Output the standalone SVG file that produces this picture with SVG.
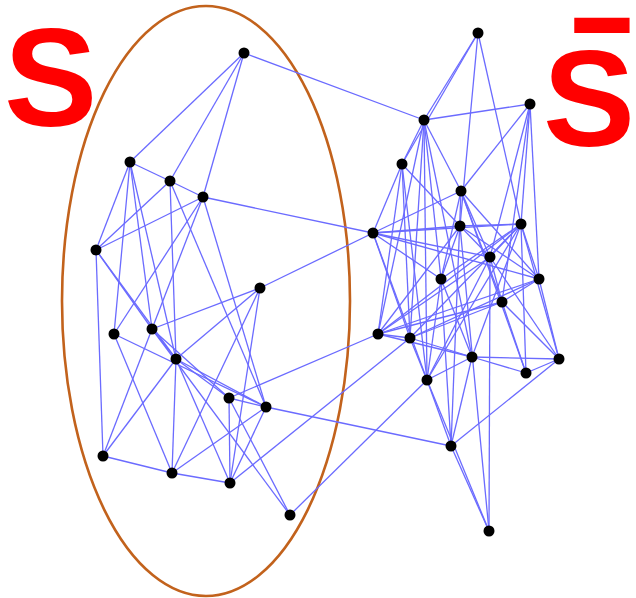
<svg xmlns="http://www.w3.org/2000/svg" width="636" height="598" viewBox="0 0 636 598">
<style>
.e{stroke:#6b6bff;stroke-width:1.3;fill:none}
.n{fill:#000}
.lbl{font-family:"Liberation Sans",Arial,sans-serif;font-weight:bold;fill:#ff0000}
</style>
<rect width="636" height="598" fill="#fff"/>
<ellipse id="set-S" cx="206" cy="301" rx="144" ry="295" fill="none" stroke="#c2621c" stroke-width="2.6"/>
<text class="lbl" x="4" y="126" font-size="140">S</text>
<text class="lbl" x="543" y="146" font-size="138">S<tspan x="602" y="152" font-size="185">̄</tspan></text>
<g id="connectors" class="e">
<line x1="244" y1="53" x2="130" y2="162"/>
<line x1="244" y1="53" x2="170" y2="181"/>
<line x1="244" y1="53" x2="203" y2="197"/>
<line x1="130" y1="162" x2="170" y2="181"/>
<line x1="130" y1="162" x2="96" y2="250"/>
<line x1="130" y1="162" x2="114" y2="334"/>
<line x1="130" y1="162" x2="152" y2="329"/>
<line x1="130" y1="162" x2="176" y2="359"/>
<line x1="170" y1="181" x2="203" y2="197"/>
<line x1="170" y1="181" x2="96" y2="250"/>
<line x1="170" y1="181" x2="176" y2="359"/>
<line x1="170" y1="181" x2="266" y2="407"/>
<line x1="203" y1="197" x2="96" y2="250"/>
<line x1="203" y1="197" x2="114" y2="334"/>
<line x1="203" y1="197" x2="152" y2="329"/>
<line x1="203" y1="197" x2="266" y2="407"/>
<line x1="96" y1="250" x2="103" y2="456"/>
<line x1="96" y1="250" x2="152" y2="329"/>
<line x1="96" y1="250" x2="176" y2="359"/>
<line x1="260" y1="288" x2="152" y2="329"/>
<line x1="260" y1="288" x2="176" y2="359"/>
<line x1="260" y1="288" x2="172" y2="473"/>
<line x1="260" y1="288" x2="230" y2="483"/>
<line x1="114" y1="334" x2="266" y2="407"/>
<line x1="114" y1="334" x2="172" y2="473"/>
<line x1="152" y1="329" x2="176" y2="359"/>
<line x1="152" y1="329" x2="229" y2="398"/>
<line x1="152" y1="329" x2="103" y2="456"/>
<line x1="152" y1="329" x2="290" y2="515"/>
<line x1="176" y1="359" x2="229" y2="398"/>
<line x1="176" y1="359" x2="266" y2="407"/>
<line x1="176" y1="359" x2="103" y2="456"/>
<line x1="176" y1="359" x2="172" y2="473"/>
<line x1="176" y1="359" x2="230" y2="483"/>
<line x1="229" y1="398" x2="266" y2="407"/>
<line x1="229" y1="398" x2="230" y2="483"/>
<line x1="229" y1="398" x2="290" y2="515"/>
<line x1="266" y1="407" x2="172" y2="473"/>
<line x1="266" y1="407" x2="230" y2="483"/>
<line x1="103" y1="456" x2="172" y2="473"/>
<line x1="172" y1="473" x2="230" y2="483"/>
<line x1="244" y1="53" x2="424" y2="120"/>
<line x1="203" y1="197" x2="373" y2="233"/>
<line x1="260" y1="288" x2="373" y2="233"/>
<line x1="229" y1="398" x2="378" y2="334"/>
<line x1="266" y1="407" x2="451" y2="446"/>
<line x1="230" y1="483" x2="410" y2="338"/>
<line x1="290" y1="515" x2="427" y2="380"/>
<line x1="478" y1="33" x2="424" y2="120"/>
<line x1="478" y1="33" x2="402" y2="164"/>
<line x1="478" y1="33" x2="460" y2="226"/>
<line x1="478" y1="33" x2="521" y2="224"/>
<line x1="530" y1="104" x2="424" y2="120"/>
<line x1="530" y1="104" x2="461" y2="191"/>
<line x1="530" y1="104" x2="521" y2="224"/>
<line x1="530" y1="104" x2="539" y2="279"/>
<line x1="530" y1="104" x2="502" y2="302"/>
<line x1="530" y1="104" x2="490" y2="257"/>
<line x1="424" y1="120" x2="402" y2="164"/>
<line x1="424" y1="120" x2="461" y2="191"/>
<line x1="424" y1="120" x2="441" y2="279"/>
<line x1="424" y1="120" x2="378" y2="334"/>
<line x1="424" y1="120" x2="410" y2="338"/>
<line x1="424" y1="120" x2="427" y2="380"/>
<line x1="424" y1="120" x2="472" y2="357"/>
<line x1="402" y1="164" x2="373" y2="233"/>
<line x1="402" y1="164" x2="460" y2="226"/>
<line x1="402" y1="164" x2="378" y2="334"/>
<line x1="402" y1="164" x2="410" y2="338"/>
<line x1="402" y1="164" x2="427" y2="380"/>
<line x1="461" y1="191" x2="373" y2="233"/>
<line x1="461" y1="191" x2="490" y2="257"/>
<line x1="461" y1="191" x2="441" y2="279"/>
<line x1="461" y1="191" x2="502" y2="302"/>
<line x1="461" y1="191" x2="526" y2="373"/>
<line x1="461" y1="191" x2="539" y2="279"/>
<line x1="461" y1="191" x2="451" y2="446"/>
<line x1="373" y1="233" x2="460" y2="226"/>
<line x1="373" y1="233" x2="521" y2="224"/>
<line x1="373" y1="233" x2="490" y2="257"/>
<line x1="373" y1="233" x2="441" y2="279"/>
<line x1="373" y1="233" x2="410" y2="338"/>
<line x1="373" y1="233" x2="427" y2="380"/>
<line x1="373" y1="233" x2="539" y2="279"/>
<line x1="460" y1="226" x2="521" y2="224"/>
<line x1="460" y1="226" x2="490" y2="257"/>
<line x1="460" y1="226" x2="441" y2="279"/>
<line x1="460" y1="226" x2="378" y2="334"/>
<line x1="460" y1="226" x2="489" y2="531"/>
<line x1="460" y1="226" x2="539" y2="279"/>
<line x1="521" y1="224" x2="490" y2="257"/>
<line x1="521" y1="224" x2="441" y2="279"/>
<line x1="521" y1="224" x2="539" y2="279"/>
<line x1="521" y1="224" x2="378" y2="334"/>
<line x1="521" y1="224" x2="410" y2="338"/>
<line x1="521" y1="224" x2="472" y2="357"/>
<line x1="521" y1="224" x2="526" y2="373"/>
<line x1="521" y1="224" x2="427" y2="380"/>
<line x1="521" y1="224" x2="559" y2="359"/>
<line x1="490" y1="257" x2="502" y2="302"/>
<line x1="490" y1="257" x2="559" y2="359"/>
<line x1="490" y1="257" x2="378" y2="334"/>
<line x1="490" y1="257" x2="427" y2="380"/>
<line x1="490" y1="257" x2="489" y2="531"/>
<line x1="441" y1="279" x2="427" y2="380"/>
<line x1="441" y1="279" x2="472" y2="357"/>
<line x1="441" y1="279" x2="451" y2="446"/>
<line x1="539" y1="279" x2="502" y2="302"/>
<line x1="539" y1="279" x2="378" y2="334"/>
<line x1="539" y1="279" x2="559" y2="359"/>
<line x1="539" y1="279" x2="410" y2="338"/>
<line x1="502" y1="302" x2="559" y2="359"/>
<line x1="502" y1="302" x2="526" y2="373"/>
<line x1="502" y1="302" x2="410" y2="338"/>
<line x1="502" y1="302" x2="378" y2="334"/>
<line x1="378" y1="334" x2="410" y2="338"/>
<line x1="378" y1="334" x2="472" y2="357"/>
<line x1="410" y1="338" x2="472" y2="357"/>
<line x1="410" y1="338" x2="427" y2="380"/>
<line x1="472" y1="357" x2="559" y2="359"/>
<line x1="472" y1="357" x2="526" y2="373"/>
<line x1="472" y1="357" x2="427" y2="380"/>
<line x1="472" y1="357" x2="451" y2="446"/>
<line x1="559" y1="359" x2="526" y2="373"/>
<line x1="559" y1="359" x2="451" y2="446"/>
<line x1="427" y1="380" x2="451" y2="446"/>
<line x1="451" y1="446" x2="489" y2="531"/>
<line x1="427" y1="380" x2="489" y2="531"/>
</g>
<g id="nodes" class="n">
<circle id="A" cx="244" cy="53" r="5.5"/>
<circle id="B" cx="130" cy="162" r="5.5"/>
<circle id="C" cx="170" cy="181" r="5.5"/>
<circle id="D" cx="203" cy="197" r="5.5"/>
<circle id="E" cx="96" cy="250" r="5.5"/>
<circle id="F" cx="260" cy="288" r="5.5"/>
<circle id="G" cx="114" cy="334" r="5.5"/>
<circle id="H" cx="152" cy="329" r="5.5"/>
<circle id="I" cx="176" cy="359" r="5.5"/>
<circle id="J" cx="229" cy="398" r="5.5"/>
<circle id="K" cx="266" cy="407" r="5.5"/>
<circle id="L" cx="103" cy="456" r="5.5"/>
<circle id="M" cx="172" cy="473" r="5.5"/>
<circle id="N" cx="230" cy="483" r="5.5"/>
<circle id="O" cx="290" cy="515" r="5.5"/>
<circle id="P" cx="478" cy="33" r="5.5"/>
<circle id="Q" cx="530" cy="104" r="5.5"/>
<circle id="R" cx="424" cy="120" r="5.5"/>
<circle id="T" cx="402" cy="164" r="5.5"/>
<circle id="U" cx="461" cy="191" r="5.5"/>
<circle id="V" cx="373" cy="233" r="5.5"/>
<circle id="W" cx="460" cy="226" r="5.5"/>
<circle id="X" cx="521" cy="224" r="5.5"/>
<circle id="Y" cx="490" cy="257" r="5.5"/>
<circle id="Z" cx="441" cy="279" r="5.5"/>
<circle id="AA" cx="539" cy="279" r="5.5"/>
<circle id="AB" cx="502" cy="302" r="5.5"/>
<circle id="AC" cx="378" cy="334" r="5.5"/>
<circle id="AD" cx="410" cy="338" r="5.5"/>
<circle id="AE" cx="472" cy="357" r="5.5"/>
<circle id="AF" cx="559" cy="359" r="5.5"/>
<circle id="AG" cx="526" cy="373" r="5.5"/>
<circle id="AH" cx="427" cy="380" r="5.5"/>
<circle id="AI" cx="451" cy="446" r="5.5"/>
<circle id="AJ" cx="489" cy="531" r="5.5"/>
</g>
</svg>
